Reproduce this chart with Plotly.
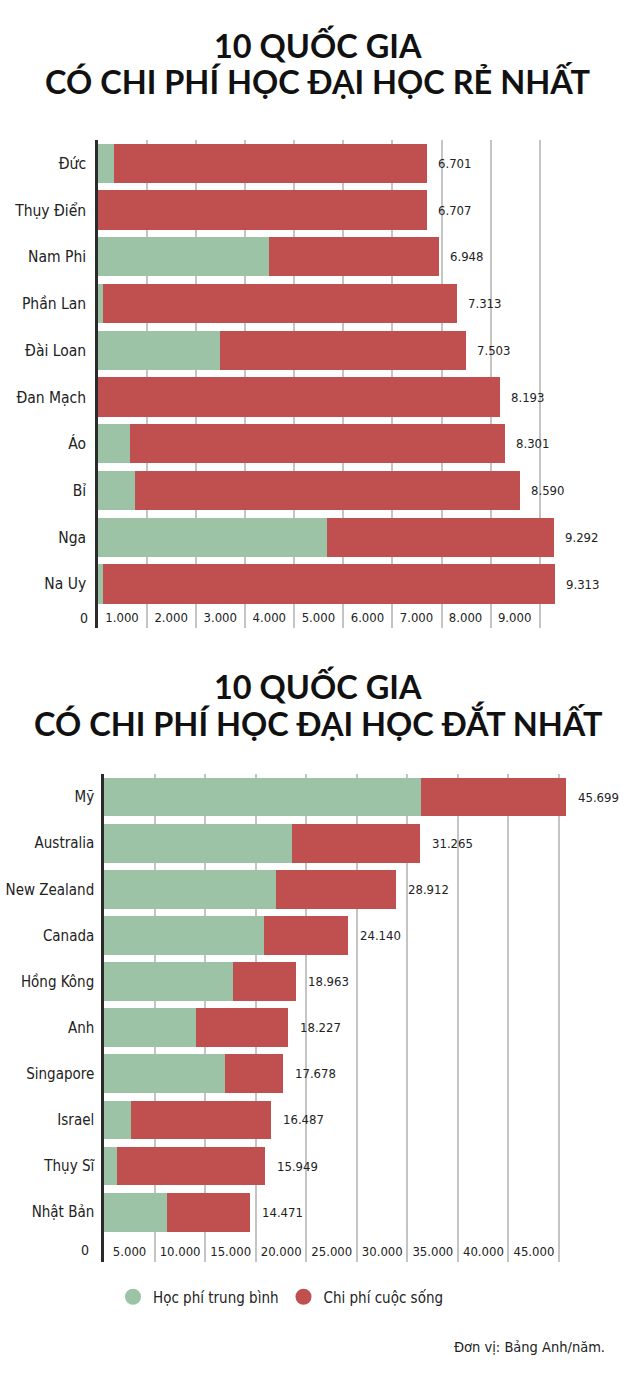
import plotly.graph_objects as go

# ---------------- data ----------------
countries_top = ["Đức", "Thụy Điển", "Nam Phi", "Phần Lan", "Đài Loan",
                 "Đan Mạch", "Áo", "Bỉ", "Nga", "Na Uy"]
total_top = [6701, 6707, 6948, 7313, 7503, 8193, 8301, 8590, 9292, 9313]
tuition_top = [330, 0, 3480, 100, 2480, 0, 650, 750, 4660, 100]
living_top = [6371, 6707, 3468, 7213, 5023, 8193, 7651, 7840, 4632, 9213]
ticks_top = [1000, 2000, 3000, 4000, 5000, 6000, 7000, 8000, 9000]
ticktext_top = ["1.000", "2.000", "3.000", "4.000", "5.000",
                "6.000", "7.000", "8.000", "9.000"]

countries_bot = ["Mỹ", "Australia", "New Zealand", "Canada", "Hồng Kông",
                 "Anh", "Singapore", "Israel", "Thụy Sĩ", "Nhật Bản"]
total_bot = [45699, 31265, 28912, 24140, 18963, 18227, 17678, 16487, 15949, 14471]
tuition_bot = [31350, 18600, 17000, 15800, 12760, 9100, 11970, 2670, 1290, 6230]
living_bot = [14349, 12665, 11912, 8340, 6203, 9127, 5708, 13817, 14659, 8241]
ticks_bot = [5000, 10000, 15000, 20000, 25000, 30000, 35000, 40000, 45000]
ticktext_bot = ["5.000", "10.000", "15.000", "20.000", "25.000",
                "30.000", "35.000", "40.000", "45.000"]

series_names = ["Học phí trung bình", "Chi phí cuộc sống"]
title_top = ["10 QUỐC GIA", "CÓ CHI PHÍ HỌC ĐẠI HỌC RẺ NHẤT"]
title_bot = ["10 QUỐC GIA", "CÓ CHI PHÍ HỌC ĐẠI HỌC ĐẮT NHẤT"]
unit_note = "Đơn vị: Bảng Anh/năm."

# ---------------- style ----------------
W, H = 640, 1378
GREEN = "#9cc3a6"
RED = "#c0504f"
GRID = "#c4c4c4"
AXIS = "#2b2b2b"
TXT = "#222222"
FONT = "DejaVu Sans Condensed, DejaVu Sans, sans-serif"
TFONT = "Lato, Open Sans, sans-serif"


def py(px):
    return 1 - px / H


def fmt(v):
    return f"{v:,}".replace(",", ".")


fig = go.Figure()

# top chart bars
fig.add_trace(go.Bar(y=countries_top, x=tuition_top, orientation="h",
                     marker=dict(color=GREEN, line=dict(width=0)),
                     xaxis="x", yaxis="y", showlegend=False, hoverinfo="skip"))
fig.add_trace(go.Bar(y=countries_top, x=living_top, orientation="h",
                     marker=dict(color=RED, line=dict(width=0)),
                     xaxis="x", yaxis="y", showlegend=False, hoverinfo="skip"))
# bottom chart bars
fig.add_trace(go.Bar(y=countries_bot, x=tuition_bot, orientation="h",
                     marker=dict(color=GREEN, line=dict(width=0)),
                     xaxis="x2", yaxis="y2", showlegend=False, hoverinfo="skip"))
fig.add_trace(go.Bar(y=countries_bot, x=living_bot, orientation="h",
                     marker=dict(color=RED, line=dict(width=0)),
                     xaxis="x2", yaxis="y2", showlegend=False, hoverinfo="skip"))
# legend entries (circles)
for name, col in zip(series_names, [GREEN, RED]):
    fig.add_trace(go.Scatter(x=[None], y=[None], mode="markers", name=name,
                             marker=dict(size=17, color=col, symbol="circle"),
                             xaxis="x2", yaxis="y2"))

annotations = []
# value labels
for c, t in zip(countries_top, total_top):
    annotations.append(dict(x=t, y=c, xref="x", yref="y", text=fmt(t),
                            showarrow=False, xanchor="left", xshift=9,
                            font=dict(family=FONT, size=13, color=TXT)))
for c, t in zip(countries_bot, total_bot):
    annotations.append(dict(x=t, y=c, xref="x2", yref="y2", text=fmt(t),
                            showarrow=False, xanchor="left", xshift=10,
                            font=dict(family=FONT, size=13, color=TXT)))
# "0" labels
annotations.append(dict(x=0, y=py(618), xref="x", yref="paper", text="0",
                        showarrow=False, xanchor="center", xshift=-14,
                        yanchor="middle",
                        font=dict(family=FONT, size=14, color=TXT)))
annotations.append(dict(x=0, y=py(1250), xref="x2", yref="paper", text="0",
                        showarrow=False, xanchor="center", xshift=-19,
                        yanchor="middle",
                        font=dict(family=FONT, size=14, color=TXT)))
# titles
for txt, yy in zip(title_top, [45, 81]):
    annotations.append(dict(x=0.497, y=py(yy), xref="paper", yref="paper",
                            text=txt, showarrow=False, xanchor="center",
                            yanchor="middle",
                            font=dict(family=TFONT, size=32.5, color="#111111",
                                      weight=700)))
for txt, yy in zip(title_bot, [686, 722]):
    annotations.append(dict(x=0.497, y=py(yy), xref="paper", yref="paper",
                            text=txt, showarrow=False, xanchor="center",
                            yanchor="middle",
                            font=dict(family=TFONT, size=32.5, color="#111111",
                                      weight=700)))
# unit note
annotations.append(dict(x=607 / W, y=py(1347), xref="paper", yref="paper",
                        text=unit_note, showarrow=False, xanchor="right",
                        yanchor="middle",
                        font=dict(family=FONT, size=14.5, color=TXT)))

top_scale = 457 / 9313.0
bot_scale = 462 / 45699.0
x0_top, x0_bot, xr = 98, 104, 600

xaxis_common = dict(showgrid=True, gridcolor=GRID, gridwidth=1.5,
                    zeroline=False, showline=False, ticks="",
                    ticklabelposition="inside", fixedrange=True,
                    automargin=False, ticklabelstandoff=0,
                    tickfont=dict(family=FONT, size=13, color=TXT))
yaxis_common = dict(type="category", showgrid=False, zeroline=False,
                    showline=True, linecolor=AXIS, linewidth=2.5, ticks="",
                    fixedrange=True, automargin=False)

fig.update_layout(
    width=W, height=H,
    margin=dict(l=0, r=0, t=0, b=0, pad=0, autoexpand=False),
    paper_bgcolor="white", plot_bgcolor="white",
    barmode="stack", bargap=0.16,
    xaxis=dict(domain=[x0_top / W, xr / W],
               range=[0, (xr - x0_top) / top_scale],
               tickvals=ticks_top, ticktext=ticktext_top,
               ticklabelshift=-25, anchor="y", **xaxis_common),
    yaxis=dict(domain=[py(628), py(140)], range=[9.94, -0.5],
               categoryarray=countries_top, categoryorder="array",
               ticklabelstandoff=6, anchor="x",
               tickfont=dict(family=FONT, size=15.5, color=TXT),
               **yaxis_common),
    xaxis2=dict(domain=[x0_bot / W, xr / W],
                range=[0, (xr - x0_bot) / bot_scale],
                tickvals=ticks_bot, ticktext=ticktext_bot,
                ticklabelshift=-25, anchor="y2", **xaxis_common),
    yaxis2=dict(domain=[py(1262), py(774)], range=[10.08, -0.5],
                categoryarray=countries_bot, categoryorder="array",
                ticklabelstandoff=4, anchor="x2",
                tickfont=dict(family=FONT, size=15, color=TXT),
                **yaxis_common),
    legend=dict(orientation="h", x=113 / W, xanchor="left",
                y=py(1297), yanchor="middle", traceorder="normal",
                font=dict(family=FONT, size=15, color=TXT),
                itemsizing="trace", bgcolor="rgba(0,0,0,0)"),
    annotations=annotations,
    showlegend=True,
)

fig.write_html("out.html",
               config={"displayModeBar": False, "staticPlot": False},
               post_script="document.body.style.margin='0px';"
                           "document.body.style.overflow='hidden';")
